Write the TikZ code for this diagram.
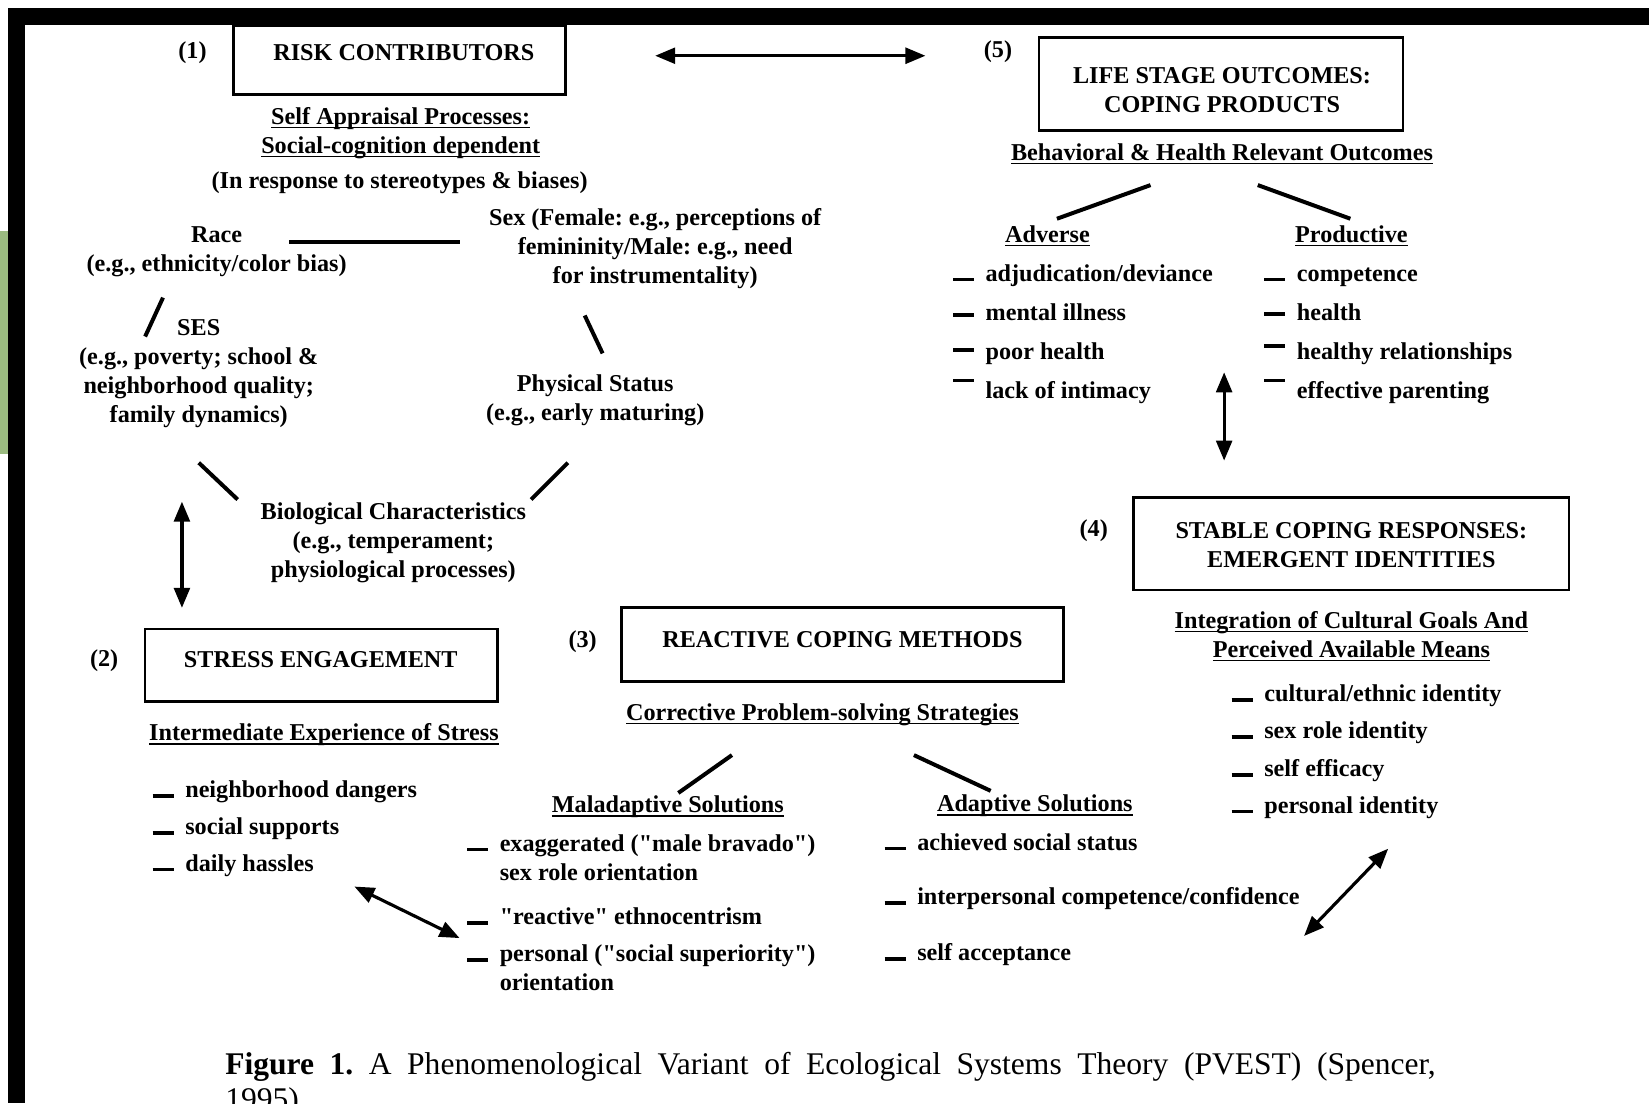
\documentclass[tikz,border=0pt]{standalone}
\usepackage{fontspec}
\setmainfont{Liberation Serif}
\usetikzlibrary{arrows.meta}
\definecolor{sidegreen}{RGB}{155,187,128}
\newsavebox\ulbox
\newcommand{\myul}[1]{\sbox\ulbox{#1}\rlap{\rule[-3.8pt]{\wd\ulbox}{1.5pt}}\usebox\ulbox}
\newcommand{\dsh}[1]{\rule[#1]{20pt}{3.5pt}\hspace{11pt}}
\newcommand{\qq}{\textquotedbl}
\frenchspacing
\begin{document}
\begin{tikzpicture}[x=1pt,y=-1pt,
  txt/.style={font=\fontsize{23}{27.5}\selectfont\bfseries, inner sep=0pt, align=center, yshift=-1.5pt},
  lst/.style={txt, anchor=base west, align=left},
  box/.style={draw, line width=2.6pt, inner sep=0pt},
  lnk/.style={line width=3.8pt},
  dbl/.style={line width=3pt, {Triangle[length=19pt,width=15pt]}-{Triangle[length=19pt,width=15pt]}},
  captxt/.style={font=\fontsize{30}{33}\selectfont, inner sep=0pt, anchor=base west},
]
\useasboundingbox (0,0) rectangle (1568,1049);
\fill[white] (0,0) rectangle (1568,1049);
% frame
\fill[black] (8,8) rectangle (1568,24);
\fill[black] (8,8) rectangle (24,1049);
\fill[sidegreen] (0,220) rectangle (8,432);

% (1) Risk contributors
\node[box, minimum width=316pt, minimum height=66pt] (b1) at (380,57) {};
\node[txt] (t1) at (384,49) {RISK CONTRIBUTORS};
\node[txt] (n1) at (183,49) {(1)};
\node[txt] (sap) at (381,125) {\myul{Self Appraisal Processes:}\\\myul{Social-cognition dependent}};
\node[txt] (resp) at (380,172) {(In response to stereotypes \& biases)};
\node[txt] (race) at (206,238) {Race\\(e.g., ethnicity/color bias)};
\node[txt] (sex) at (623,234.5) {Sex (Female: e.g., perceptions of\\femininity/Male: e.g., need\\for instrumentality)};
\node[txt] (ses) at (189,354) {SES\\(e.g., poverty; school \&\\neighborhood quality;\\family dynamics)};
\node[txt] (phys) at (566,379.5) {Physical Status\\(e.g., early maturing)};
\node[txt] (bio) at (374,515) {Biological Characteristics\\(e.g., temperament;\\physiological processes)};

\coordinate (rs1) at (275,230); \coordinate (rs2) at (437,230);
\coordinate (re1) at (138,320); \coordinate (re2) at (155,283);
\coordinate (sp1) at (556,300); \coordinate (sp2) at (573,336);
\coordinate (sb1) at (189,440); \coordinate (sb2) at (226,475);
\coordinate (pb1) at (540,440); \coordinate (pb2) at (505,475);
\draw[lnk] (rs1) -- (rs2);
\draw[lnk] (re1) -- (re2);
\draw[lnk] (sp1) -- (sp2);
\draw[lnk] (sb1) -- (sb2);
\draw[lnk] (pb1) -- (pb2);

% top arrow
\coordinate (ta1) at (623,53); \coordinate (ta2) at (880,53);
\draw[dbl] (ta1) -- (ta2);

% (5) Life stage outcomes
\node[txt] (n5) at (949,48) {(5)};
\node[box, minimum width=346pt, minimum height=88pt] (b5) at (1161,80) {};
\node[txt] (t5) at (1162,84.5) {LIFE STAGE OUTCOMES:\\COPING PRODUCTS};
\node[txt] (bh) at (1162,145) {\myul{Behavioral \& Health Relevant Outcomes}};
\coordinate (ad1) at (1005,208); \coordinate (ad2) at (1094,176);
\coordinate (pr1) at (1196,176); \coordinate (pr2) at (1284,208);
\draw[lnk] (ad1) -- (ad2);
\draw[lnk] (pr1) -- (pr2);
\node[txt] (adv) at (996,223) {\myul{Adverse}};
\node[txt] (prod) at (1285,223) {\myul{Productive}};
\node[lst] (a1) at (906,266) {\dsh{0pt}adjudication/deviance};
\node[lst] (a2) at (906,303) {\dsh{3pt}mental illness};
\node[lst] (a3) at (906,340) {\dsh{7pt}poor health};
\node[lst] (a4) at (906,377) {\dsh{15pt}lack of intimacy};
\node[lst] (p1) at (1202,266) {\dsh{0pt}competence};
\node[lst] (p2) at (1202,303) {\dsh{4pt}health};
\node[lst] (p3) at (1202,340) {\dsh{10.5pt}healthy relationships};
\node[lst] (p4) at (1202,377) {\dsh{15pt}effective parenting};
\coordinate (va1) at (1164,354); \coordinate (va2) at (1164,438);
\draw[dbl] (va1) -- (va2);

% (4) Stable coping responses
\node[txt] (n4) at (1040,503) {(4)};
\node[box, minimum width=414pt, minimum height=88pt] (b4) at (1285,517) {};
\node[txt] (t4) at (1285,516.5) {STABLE COPING RESPONSES:\\EMERGENT IDENTITIES};
\node[txt] (integ) at (1285,603.5) {\myul{Integration of Cultural Goals And}\\\myul{Perceived Available Means}};
\node[lst] (i1) at (1171,666) {\dsh{0pt}cultural/ethnic identity};
\node[lst] (i2) at (1171,701) {\dsh{0pt}sex role identity};
\node[lst] (i3) at (1171,737) {\dsh{0pt}self efficacy};
\node[lst] (i4) at (1171,772) {\dsh{0pt}personal identity};
\coordinate (da1) at (1240,890); \coordinate (da2) at (1320,807);
\draw[dbl] (da1) -- (da2);

% (3) Reactive coping methods
\node[txt] (n3) at (554,609) {(3)};
\node[box, minimum width=420pt, minimum height=70pt] (b3) at (801,613) {};
\node[txt] (t3) at (801,607) {REACTIVE COPING METHODS};
\node[txt] (cps) at (782,678) {\myul{Corrective Problem-solving Strategies}};
\coordinate (ml1) at (645,754); \coordinate (ml2) at (696,718);
\coordinate (al1) at (869,718); \coordinate (al2) at (942,752);
\draw[lnk] (ml1) -- (ml2);
\draw[lnk] (al1) -- (al2);
\node[txt] (mal) at (635,766) {\myul{Maladaptive Solutions}};
\node[txt] (adap) at (984,765) {\myul{Adaptive Solutions}};
\node[lst] (m1) at (444,808) {\dsh{0pt}\begin{tabular}[t]{@{}l@{}}exaggerated (\qq male bravado\qq)\\sex role orientation\end{tabular}};
\node[lst] (m2) at (444,878) {\dsh{0pt}\qq reactive\qq{} ethnocentrism};
\node[lst] (m3) at (444,913) {\dsh{0pt}\begin{tabular}[t]{@{}l@{}}personal (\qq social superiority\qq)\\orientation\end{tabular}};
\node[lst] (s1) at (841,807) {\dsh{0pt}achieved social status};
\node[lst] (s2) at (841,859) {\dsh{0pt}interpersonal competence/confidence};
\node[lst] (s3) at (841,912) {\dsh{0pt}self acceptance};

% (2) Stress engagement
\node[txt] (n2) at (99,627) {(2)};
\node[box, minimum width=335pt, minimum height=69pt] (b2) at (305.5,632.5) {};
\node[txt] (t2) at (305,626) {STRESS ENGAGEMENT};
\node[txt] (ies) at (308,697) {\myul{Intermediate Experience of Stress}};
\node[lst] (e1) at (145,757) {\dsh{0pt}neighborhood dangers};
\node[lst] (e2) at (145,792) {\dsh{0pt}social supports};
\node[lst] (e3) at (145,827) {\dsh{0pt}daily hassles};
\coordinate (sa1) at (337,843); \coordinate (sa2) at (437,892);
\draw[dbl] (sa1) -- (sa2);
\coordinate (la1) at (173,477); \coordinate (la2) at (173,578);
\draw[dbl] (la1) -- (la2);

% caption
\node[captxt] (capt) at (214,1022) {\makebox[1151pt][s]{\textbf{Figure 1.} A Phenomenological Variant of Ecological Systems Theory (PVEST) (Spencer,}};
\node[captxt] (capt2) at (214,1055) {1995)};
\end{tikzpicture}
\end{document}
